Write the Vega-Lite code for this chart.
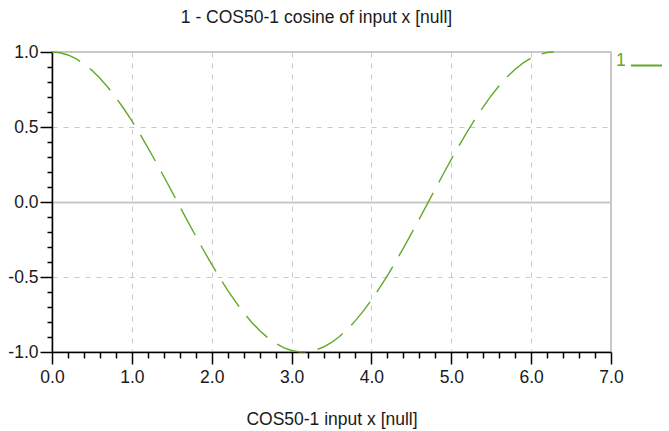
{
  "$schema": "https://vega.github.io/schema/vega-lite/v6.json",
  "width": 559,
  "height": 300,
  "autosize": {"type": "none"},
  "padding": {"left": 52, "top": 52, "right": 58, "bottom": 79},
  "background": "white",
  "config": {
    "font": "Liberation Sans",
    "view": {"stroke": "#c8c8c8", "strokeWidth": 2},
    "axis": {
      "domainColor": "#000000",
      "domainWidth": 1.5,
      "tickColor": "#000000",
      "tickWidth": 1.5,
      "labelFont": "Liberation Sans",
      "labelFontSize": 17.5,
      "labelColor": "#1a1a1a",
      "titleFont": "Liberation Sans",
      "titleFontSize": 17.5,
      "titleFontWeight": "normal",
      "titleColor": "#1a1a1a",
      "gridColor": "#c8c8c8",
      "labelFlush": false,
      "labelOverlap": false,
      "labelBound": false
    }
  },
  "title": {
    "text": "1 - COS50-1 cosine of input x [null]",
    "font": "Liberation Sans",
    "fontSize": 17.5,
    "fontWeight": "normal",
    "color": "#1a1a1a",
    "anchor": "middle",
    "offset": 17,
    "dx": -15
  },
  "data": {
    "values": [
      {"x": 0.0, "y": 1.0, "s": "1"},
      {"x": 0.1, "y": 0.995, "s": "1"},
      {"x": 0.2, "y": 0.9801, "s": "1"},
      {"x": 0.3, "y": 0.9553, "s": "1"},
      {"x": 0.4, "y": 0.9211, "s": "1"},
      {"x": 0.5, "y": 0.8776, "s": "1"},
      {"x": 0.6, "y": 0.8253, "s": "1"},
      {"x": 0.7, "y": 0.7648, "s": "1"},
      {"x": 0.8, "y": 0.6967, "s": "1"},
      {"x": 0.9, "y": 0.6216, "s": "1"},
      {"x": 1.0, "y": 0.5403, "s": "1"},
      {"x": 1.1, "y": 0.4536, "s": "1"},
      {"x": 1.2, "y": 0.3624, "s": "1"},
      {"x": 1.3, "y": 0.2675, "s": "1"},
      {"x": 1.4, "y": 0.17, "s": "1"},
      {"x": 1.5, "y": 0.0707, "s": "1"},
      {"x": 1.6, "y": -0.0292, "s": "1"},
      {"x": 1.7, "y": -0.1288, "s": "1"},
      {"x": 1.8, "y": -0.2272, "s": "1"},
      {"x": 1.9, "y": -0.3233, "s": "1"},
      {"x": 2.0, "y": -0.4161, "s": "1"},
      {"x": 2.1, "y": -0.5048, "s": "1"},
      {"x": 2.2, "y": -0.5885, "s": "1"},
      {"x": 2.3, "y": -0.6663, "s": "1"},
      {"x": 2.4, "y": -0.7374, "s": "1"},
      {"x": 2.5, "y": -0.8011, "s": "1"},
      {"x": 2.6, "y": -0.8569, "s": "1"},
      {"x": 2.7, "y": -0.9041, "s": "1"},
      {"x": 2.8, "y": -0.9422, "s": "1"},
      {"x": 2.9, "y": -0.971, "s": "1"},
      {"x": 3.0, "y": -0.99, "s": "1"},
      {"x": 3.1, "y": -0.9991, "s": "1"},
      {"x": 3.2, "y": -0.9983, "s": "1"},
      {"x": 3.3, "y": -0.9875, "s": "1"},
      {"x": 3.4, "y": -0.9668, "s": "1"},
      {"x": 3.5, "y": -0.9365, "s": "1"},
      {"x": 3.6, "y": -0.8968, "s": "1"},
      {"x": 3.7, "y": -0.8481, "s": "1"},
      {"x": 3.8, "y": -0.791, "s": "1"},
      {"x": 3.9, "y": -0.7259, "s": "1"},
      {"x": 4.0, "y": -0.6536, "s": "1"},
      {"x": 4.1, "y": -0.5748, "s": "1"},
      {"x": 4.2, "y": -0.4903, "s": "1"},
      {"x": 4.3, "y": -0.4008, "s": "1"},
      {"x": 4.4, "y": -0.3073, "s": "1"},
      {"x": 4.5, "y": -0.2108, "s": "1"},
      {"x": 4.6, "y": -0.1122, "s": "1"},
      {"x": 4.7, "y": -0.0124, "s": "1"},
      {"x": 4.8, "y": 0.0875, "s": "1"},
      {"x": 4.9, "y": 0.1865, "s": "1"},
      {"x": 5.0, "y": 0.2837, "s": "1"},
      {"x": 5.1, "y": 0.378, "s": "1"},
      {"x": 5.2, "y": 0.4685, "s": "1"},
      {"x": 5.3, "y": 0.5544, "s": "1"},
      {"x": 5.4, "y": 0.6347, "s": "1"},
      {"x": 5.5, "y": 0.7087, "s": "1"},
      {"x": 5.6, "y": 0.7756, "s": "1"},
      {"x": 5.7, "y": 0.8347, "s": "1"},
      {"x": 5.8, "y": 0.8855, "s": "1"},
      {"x": 5.9, "y": 0.9275, "s": "1"},
      {"x": 6.0, "y": 0.9602, "s": "1"},
      {"x": 6.1, "y": 0.9833, "s": "1"},
      {"x": 6.2, "y": 0.9965, "s": "1"},
      {"x": 6.2832, "y": 1.0, "s": "1"}
    ]
  },
  "mark": {"type": "line", "strokeWidth": 1.4, "strokeDash": [30, 12], "clip": false},
  "encoding": {
    "x": {
      "field": "x",
      "type": "quantitative",
      "scale": {"domain": [0, 7], "nice": false, "zero": false},
      "axis": {
        "title": "COS50-1 input x [null]",
        "titlePadding": 25,
        "values": [0, 0.2, 0.4, 0.6, 0.8, 1, 1.2, 1.4, 1.6, 1.8, 2, 2.2, 2.4, 2.6, 2.8, 3, 3.2, 3.4, 3.6, 3.8, 4, 4.2, 4.4, 4.6, 4.8, 5, 5.2, 5.4, 5.6, 5.8, 6, 6.2, 6.4, 6.6, 6.8, 7],
        "labelExpr": "abs(datum.value - round(datum.value)) < 0.001 ? format(datum.value, '.1f') : ''",
        "labelPadding": 4,
        "tickSize": {"condition": {"test": "abs(datum.value - round(datum.value)) < 0.001", "value": 12}, "value": 6},
        "grid": true,
        "gridDash": [5, 6],
        "gridWidth": 1,
        "gridOpacity": {"condition": {"test": "abs(datum.value - round(datum.value)) < 0.001 && datum.value > 0.5 && datum.value < 6.5", "value": 1}, "value": 0}
      }
    },
    "y": {
      "field": "y",
      "type": "quantitative",
      "scale": {"domain": [-1, 1], "nice": false, "zero": false},
      "axis": {
        "title": null,
        "values": [-1, -0.9, -0.8, -0.7, -0.6, -0.5, -0.4, -0.3, -0.2, -0.1, 0, 0.1, 0.2, 0.3, 0.4, 0.5, 0.6, 0.7, 0.8, 0.9, 1],
        "labelExpr": "abs(datum.value * 2 - round(datum.value * 2)) < 0.001 ? (datum.value < -0.001 ? '-' + format(-datum.value, '.1f') : format(abs(datum.value), '.1f')) : ''",
        "labelPadding": 2,
        "tickSize": {"condition": {"test": "abs(datum.value * 2 - round(datum.value * 2)) < 0.001", "value": 12}, "value": 5},
        "grid": true,
        "gridDash": {"condition": {"test": "abs(datum.value) < 0.001", "value": [1, 0]}, "value": [5, 6]},
        "gridWidth": {"condition": {"test": "abs(datum.value) < 0.001", "value": 2}, "value": 1},
        "gridOpacity": {"condition": {"test": "abs(datum.value * 2 - round(datum.value * 2)) < 0.001 && abs(datum.value) < 0.9", "value": 1}, "value": 0}
      }
    },
    "color": {
      "field": "s",
      "type": "nominal",
      "scale": {"domain": ["1"], "range": ["#64a82a"]},
      "legend": {
        "title": null,
        "orient": "none",
        "legendX": 578,
        "legendY": -3,
        "symbolType": "stroke",
        "symbolSize": 961,
        "symbolStrokeWidth": 2,
        "symbolDash": [1, 0],
        "labelOffset": -47,
        "labelBaseline": "alphabetic",
        "labelColor": "#64a82a",
        "labelFont": "Liberation Sans",
        "labelFontSize": 17.5,
        "padding": 0
      }
    }
  }
}
